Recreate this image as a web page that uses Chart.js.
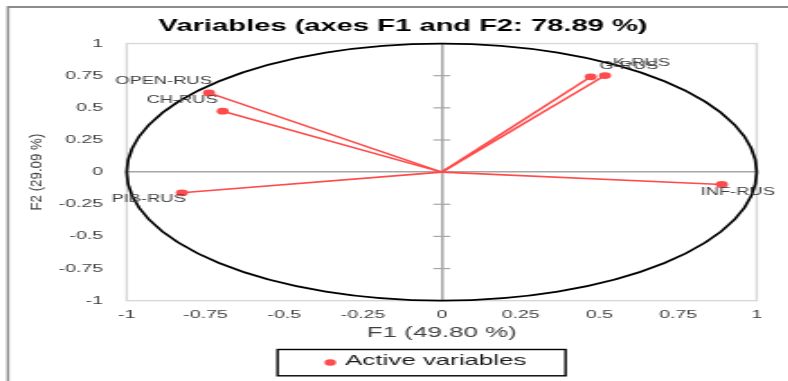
<!DOCTYPE html>
<html>
<head>
<meta charset="utf-8">
<script src="https://cdn.jsdelivr.net/npm/chart.js@4.4.1/dist/chart.umd.min.js"></script>
<style>
  html, body { margin: 0; padding: 0; background: #ffffff; overflow: hidden; }
  #wrap { width: 788px; height: 381px; overflow: hidden; }
  /* the drawing is made narrow and widened horizontally */
  #c { display: block; transform: scaleX(1.8); transform-origin: 0 0; }
</style>
</head>
<body>
<div id="wrap"><canvas id="c" width="438" height="381" style="width:438px;height:381px"></canvas></div>
<script>
// Correlation circle: variable coordinates on F1 and F2
const variables = ['OPEN-RUS', 'CH-RUS', 'PIB-RUS', 'K-RUS', 'G-RUS', 'INF-RUS'];
const f1 = [-0.739, -0.695, -0.825, 0.518, 0.473, 0.889];
const f2 = [0.616, 0.474, -0.161, 0.751, 0.741, -0.096];

const axisTicks = [-1, -0.75, -0.5, -0.25, 0, 0.25, 0.5, 0.75, 1];
const tickLabels = ['-1', '-0.75', '-0.5', '-0.25', '0', '0.25', '0.5', '0.75', '1'];

const chartTitle = 'Variables (axes F1 and F2: 78.89 %)';
const xTitle = 'F1 (49.80 %)';
const yTitle = 'F2 (29.09 %)';
const legendLabel = 'Active variables';

const S = 1.8;               // horizontal widening applied by CSS
const FONT = "'Liberation Sans', Arial, sans-serif";
const RED = '#ff4b4b';
const AXIS_GREY = '#a6a6a6';
const TEXT_GREY = '#404040';

// where each label sits relative to its point (x in screen pixels)
const labelPlacement = {
  'OPEN-RUS': { align: 'right', dx: 3, dy: -11.4 },
  'CH-RUS':   { align: 'right', dx: -5, dy: -11.3 },
  'PIB-RUS':  { align: 'right', dx: 4, dy: 6.5 },
  'K-RUS':    { align: 'left', dx: 8, dy: -12.3 },
  'G-RUS':    { align: 'left', dx: 8.7, dy: -10.9 },
  'INF-RUS':  { align: 'center', dx: 16, dy: 7.4 }
};

const datasets = variables.map((name, i) => ({
  label: name,
  data: [{ x: 0, y: 0 }, { x: f1[i], y: f2[i] }],
  showLine: true,
  borderColor: RED,
  backgroundColor: RED,
  borderWidth: 1.6,
  pointRadius: [0, 3.4],
  pointHoverRadius: [0, 3.4],
  pointBorderWidth: 0
}));

const zeroOnly = (ctx) => (ctx.tick && ctx.tick.value === 0) ? AXIS_GREY : 'rgba(0,0,0,0)';

const circlePlugin = {
  id: 'circleFrame',
  beforeDraw(chart) {
    const ctx = chart.ctx;
    ctx.save();
    ctx.fillStyle = '#ffffff';
    ctx.fillRect(0, 0, chart.width, chart.height);
    // outer frame, top and left edges
    ctx.strokeStyle = '#8c8c8c';
    ctx.lineWidth = 2;
    ctx.beginPath();
    ctx.moveTo(4.4, 7);
    ctx.lineTo(chart.width, 7);
    ctx.stroke();
    ctx.lineWidth = 1.5;
    ctx.beginPath();
    ctx.moveTo(4.4, 6);
    ctx.lineTo(4.4, chart.height);
    ctx.stroke();
    ctx.restore();
  },
  beforeDatasetsDraw(chart) {
    const { ctx, chartArea: a, scales: { x, y } } = chart;
    ctx.save();
    // plot frame
    ctx.strokeStyle = '#d6d6d6';
    ctx.lineWidth = 1.3;
    ctx.strokeRect(a.left, a.top, a.right - a.left, a.bottom - a.top);
    // tick marks across the vertical zero axis
    const x0 = x.getPixelForValue(0);
    ctx.strokeStyle = AXIS_GREY;
    ctx.lineWidth = 1.2;
    axisTicks.forEach(v => {
      if (v === 0 || Math.abs(v) === 1) return;
      const py = y.getPixelForValue(v);
      ctx.beginPath();
      ctx.moveTo(x0 - 4.7, py);
      ctx.lineTo(x0 + 4.7, py);
      ctx.stroke();
    });
    // unit circle
    const cx = x.getPixelForValue(0), cy = y.getPixelForValue(0);
    const rx = x.getPixelForValue(1) - cx, ry = cy - y.getPixelForValue(1);
    ctx.strokeStyle = '#000000';
    ctx.lineWidth = 1.7;
    ctx.beginPath();
    ctx.ellipse(cx, cy, rx, ry, 0, 0, Math.PI * 2);
    ctx.stroke();
    ctx.restore();
  },
  afterDraw(chart) {
    const { ctx, scales: { y } } = chart;
    ctx.save();
    // point labels
    ctx.font = '10.2px ' + FONT;
    ctx.fillStyle = TEXT_GREY;
    ctx.textBaseline = 'middle';
    chart.data.datasets.forEach((ds, i) => {
      const el = chart.getDatasetMeta(i).data[1];
      const p = labelPlacement[ds.label];
      ctx.textAlign = p.align;
      ctx.fillText(ds.label, el.x + p.dx / S, el.y + p.dy);
    });
    // vertical axis title, only slightly widened
    ctx.save();
    ctx.translate(36.5 / S, y.getPixelForValue(0));
    ctx.scale(1.3 / S, 1);
    ctx.rotate(-Math.PI / 2);
    ctx.font = '13.3px ' + FONT;
    ctx.fillStyle = TEXT_GREY;
    ctx.textAlign = 'center';
    ctx.fillText(yTitle, 0, 0);
    ctx.restore();
    // legend
    ctx.strokeStyle = '#000000';
    ctx.lineWidth = 1.4;
    ctx.strokeRect(154.2, 349.5, 160, 26.3);
    ctx.fillStyle = RED;
    ctx.beginPath();
    ctx.arc(183.5, 362.5, 3.2, 0, Math.PI * 2);
    ctx.fill();
    ctx.font = '14.4px ' + FONT;
    ctx.fillStyle = '#1a1a1a';
    ctx.textAlign = 'left';
    ctx.fillText(legendLabel, 191.7, 361.5);
    ctx.restore();
  }
};

const tickSetup = (scale) => { scale.ticks = axisTicks.map(v => ({ value: v })); };

new Chart(document.getElementById('c'), {
  type: 'scatter',
  data: { datasets },
  options: {
    responsive: false,
    animation: false,
    devicePixelRatio: 1,
    events: [],
    layout: { padding: { left: 27.4, right: 17.6, top: 0, bottom: 0 } },
    plugins: {
      legend: { display: false },
      tooltip: { enabled: false },
      title: {
        display: true,
        text: chartTitle,
        color: '#000000',
        font: { family: FONT, size: 16.2, weight: 'bold' },
        padding: { top: 16.4, bottom: 7.7 }
      }
    },
    scales: {
      x: {
        type: 'linear',
        min: -1, max: 1,
        afterBuildTicks: tickSetup,
        afterFit: (s) => { s.height = 80.3; },
        ticks: {
          callback: (v, i) => tickLabels[i],
          color: TEXT_GREY,
          font: { family: FONT, size: 10.8 },
          padding: 7.5,
          maxRotation: 0,
          autoSkip: false
        },
        grid: { color: zeroOnly, lineWidth: 1.5, drawTicks: false },
        border: { display: false },
        title: {
          display: true,
          text: xTitle,
          color: TEXT_GREY,
          font: { family: FONT, size: 14.4 },
          padding: { top: 0, bottom: 39 }
        }
      },
      y: {
        type: 'linear',
        min: -1, max: 1,
        afterBuildTicks: tickSetup,
        afterFit: (s) => { s.width = 43; },
        ticks: {
          callback: (v, i) => tickLabels[i],
          color: TEXT_GREY,
          font: { family: FONT, size: 10.8 },
          padding: 13.2,
          autoSkip: false
        },
        grid: { color: zeroOnly, lineWidth: 1.5, drawTicks: false },
        border: { display: false },
        title: { display: false }
      }
    }
  },
  plugins: [circlePlugin]
});
</script>
</body>
</html>
